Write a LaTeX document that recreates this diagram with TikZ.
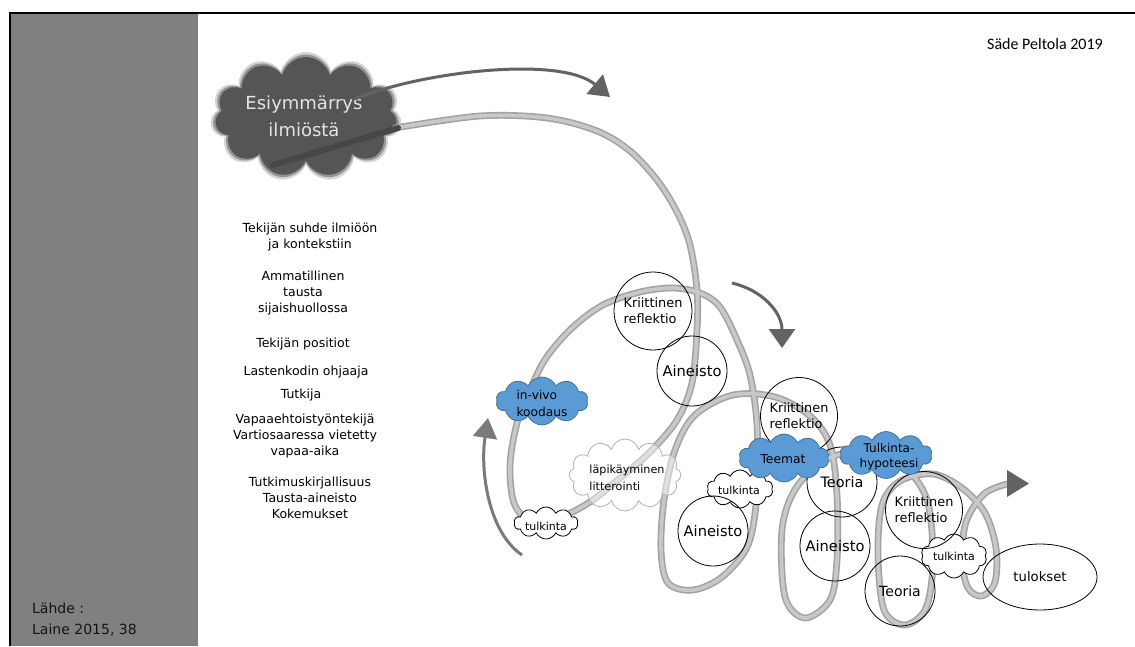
\documentclass[tikz,border=0pt]{standalone}
\usepackage{fontspec}
\setmainfont{DejaVu Sans}
\newfontfamily\calibri{Carlito}
\usetikzlibrary{shapes.symbols,shapes.geometric,arrows.meta}
\definecolor{panelgray}{HTML}{808080}
\definecolor{cloudgray}{HTML}{555555}
\definecolor{tubeedge}{HTML}{A3A3A3}
\definecolor{tubefill}{HTML}{C8C8C8}
\definecolor{arrowgray}{HTML}{636363}
\definecolor{bluefill}{HTML}{5B9BD5}
\definecolor{blueedge}{HTML}{41719C}
\definecolor{textlight}{HTML}{E4E4E4}
\tikzset{
  coltext/.style={font=\fontsize{12.5}{16}\selectfont, align=center, inner sep=0pt},
  ring/.style={circle, draw=black, line width=0.8pt, inner sep=0pt, align=left},
  tube/.style={draw=tubeedge, line width=1.6pt, double=tubefill, double distance=3.6pt, line cap=round, line join=round},
  bluecloud/.style={cloud, cloud puffs=10, cloud puff arc=130, cloud ignores aspect, fill=bluefill, draw=blueedge, line width=0.8pt, inner sep=0pt},
  whitecloud/.style={cloud, cloud puffs=10, cloud puff arc=130, cloud ignores aspect, fill=white, draw=black, line width=0.8pt, inner sep=0pt},
  cloudtext/.style={inner sep=0pt, align=left},
  arr/.style={draw=arrowgray, line width=3pt},
}
\begin{document}
\begin{tikzpicture}[x=1pt,y=-1pt]
\useasboundingbox (0,0) rectangle (1135,646);
\fill[white] (0,0) rectangle (1135,646);
\fill[panelgray] (10,13) rectangle (198,646);
\draw[line width=1.8pt] (10,646) -- (10,13) -- (1135,13);

% left column
\node[coltext] (g1) at (310,237.5) {Tekijän suhde ilmiöön\\ja kontekstiin};
\node[coltext] (g2) at (303,293) {Ammatillinen\\tausta\\sijaishuollossa};
\node[coltext] (g3) at (303,344) {Tekijän positiot};
\node[coltext] (g4) at (306,372) {Lastenkodin ohjaaja};
\node[coltext] (g5) at (301,395) {Tutkija};
\node[coltext] (g6) at (305,436) {Vapaaehtoistyöntekijä\\Vartiosaaressa vietetty\\vapaa-aika};
\node[coltext] (g7) at (310,498) {Tutkimuskirjallisuus\\Tausta-aineisto\\Kokemukset};

\node[anchor=west, font=\fontsize{14}{21}\selectfont, align=left, inner sep=0pt, text=black!92] (src) at (32,619.5) {Lähde :\\Laine 2015, 38};
\node[font=\calibri\fontsize{16}{19}\selectfont, inner sep=0pt] (auth) at (1045,44) {Säde Peltola 2019};

% dark cloud
\node[cloud, cloud puffs=11, cloud ignores aspect, fill=cloudgray, opacity=0.25, minimum width=192, minimum height=130] (dc0) at (306,117) {};
\node[cloud, cloud puffs=11, cloud ignores aspect, fill=cloudgray, opacity=0.5, minimum width=187, minimum height=125] (dc1) at (306,117) {};
\node[cloud, cloud puffs=11, cloud ignores aspect, fill=cloudgray, minimum width=182, minimum height=120] (dc) at (306,117) {};
\node[font=\fontsize{18}{27}\selectfont, text=textlight, align=center, inner sep=0pt] (dct) at (304,116) {Esiymmärrys\\ilmiöstä};

% tube
\draw[tube] plot[smooth, tension=0.55] coordinates {
(395,128) (480,116) (547,118) (597,131) (630,151) (657,180) (677,212) (690,245) (697,290) (697,330) (692,383) (677,420) (650,452) (620,478) (590,502) (560,517) (530,520) (514,503) (510,465) (517,423) (530,390) (546,358) (572,328) (603,305) (640,292) (673,288) (700,293) (720,307) (737,340) (750,375) (757,425) (757,493) (748,545) (722,577) (693,590) (668,583) (661,550) (664,500) (675,450) (695,415) (733,395) (775,397) (810,416) (830,445) (837,495) (837,560) (830,600) (805,618) (785,597) (782,530) (796,488) (827,459) (865,452) (903,466) (927,500) (933,560) (926,608) (905,625) (884,610) (878,555) (882,505) (900,481) (933,474) (962,488) (985,513) (996,548) (995,582) (982,596) (968,588) (962,560) (966,522) (984,494) (1007,484)};
\draw[line width=6pt, color=black!72, line cap=round] (273,165) -- (398,128);
\coordinate (endA) at (1007,470);
\coordinate (endB) at (1007,497);
\coordinate (endT) at (1029,483.5);
\fill[arrowgray] (endA) -- (endT) -- (endB) -- cycle;

% läpikäyminen cloud (translucent, text over the tube)
\node[cloud, cloud puffs=12, cloud ignores aspect, fill=white, fill opacity=0.45, draw=black!30, line width=0.8pt, minimum width=112, minimum height=72] (lc) at (625,475) {};
\node[cloudtext, font=\fontsize{11.2}{17}\selectfont] (lct) at (627,478) {läpikäyminen\\litterointi};

% white tulkinta clouds
\node[whitecloud, minimum width=64, minimum height=32] (tk1c) at (546,523) {};
\node[inner sep=0pt, font=\fontsize{11}{13}\selectfont] (tk1) at (546,526) {tulkinta};
\node[whitecloud, minimum width=66, minimum height=38] (tk2c) at (740,489) {};
\node[inner sep=0pt, font=\fontsize{11}{13}\selectfont] (tk2) at (739,490) {tulkinta};
\node[whitecloud, minimum width=66, minimum height=44] (tk3c) at (954,556) {};
\node[inner sep=0pt, font=\fontsize{11}{13}\selectfont] (tk3) at (954,556) {tulkinta};

% circles
\node[ring, minimum size=78, font=\fontsize{12.9}{16}\selectfont] (kr1) at (653,311) {Kriittinen\\reflektio};
\node[ring, minimum size=70, font=\fontsize{14.7}{17}\selectfont] (ai1) at (692,371) {Aineisto};
\node[ring, minimum size=77, font=\fontsize{12.9}{16}\selectfont] (kr2) at (799,416) {Kriittinen\\reflektio};
\node[ring, minimum size=70, font=\fontsize{14.4}{17}\selectfont] (te1) at (842,482) {Teoria};
\node[ring, minimum size=70, font=\fontsize{14.6}{17}\selectfont] (ai2) at (713,531) {Aineisto};
\node[ring, minimum size=70, font=\fontsize{14.7}{17}\selectfont] (ai3) at (835,546) {Aineisto};
\node[ring, minimum size=77, font=\fontsize{12.9}{16}\selectfont] (kr3) at (924,510) {Kriittinen\\reflektio};
\node[ring, minimum size=70, font=\fontsize{14}{17}\selectfont] (te2) at (900,591) {Teoria};
\node[ellipse, draw=black, line width=0.8pt, inner sep=0pt, minimum width=114, minimum height=66, font=\fontsize{13.2}{16}\selectfont] (tul) at (1040,577) {tulokset};

% blue clouds
\node[bluecloud, minimum width=92, minimum height=48] (ivc) at (542,401) {};
\node[cloudtext, font=\fontsize{12.2}{17}\selectfont] (ivt) at (542,403) {in-vivo\\koodaus};
\node[bluecloud, minimum width=90, minimum height=48] (tmc) at (784,458) {};
\node[cloudtext, font=\fontsize{12.3}{15}\selectfont] (tmt) at (783,459) {Teemat};
\node[bluecloud, minimum width=92, minimum height=47] (thc) at (886,455) {};
\node[inner sep=0pt, align=center, font=\fontsize{12}{15}\selectfont] (tht) at (889,457) {Tulkinta-\\hypoteesi};

% arrows
\coordinate (a1s) at (355,99);
\coordinate (a1e) at (610,97);
\draw[arr, -{Triangle[length=20pt,width=25pt]}] (a1s) .. controls (420,72) and (560,55) .. (a1e);
\coordinate (a2s) at (732,283);
\coordinate (a2e) at (782,348);
\draw[arr, -{Triangle[length=19pt,width=26pt]}] (a2s) .. controls (762,290) and (782,312) .. (a2e);
\coordinate (a3s) at (522,555);
\coordinate (a3e) at (488,418);
\draw[arr, draw=arrowgray!85, -{Triangle[length=20pt,width=24pt]}] (a3s) .. controls (488,532) and (480,470) .. (a3e);
\end{tikzpicture}
\end{document}
